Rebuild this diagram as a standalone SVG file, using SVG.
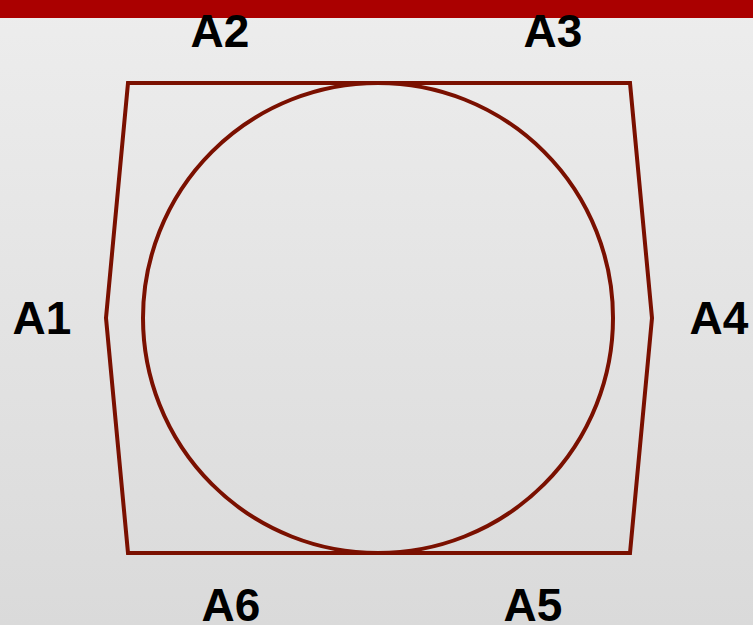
<svg xmlns="http://www.w3.org/2000/svg" width="753" height="625" viewBox="0 0 753 625">
<style>
.shape{fill:none;stroke:#7a1000;stroke-width:4;stroke-linejoin:miter}
.lbl{font-family:"Liberation Sans",Arial,sans-serif;font-weight:bold;font-size:46px;fill:#000;text-anchor:middle}
</style>
<defs>
<linearGradient id="bg" x1="0" y1="0" x2="0" y2="1">
<stop offset="0" stop-color="#ededed"/>
<stop offset="1" stop-color="#dadada"/>
</linearGradient>
</defs>
<rect x="0" y="0" width="753" height="625" fill="url(#bg)"/>
<rect x="0" y="0" width="753" height="18" fill="#aa0000"/>
<g id="hexagon"><polygon class="shape" points="128,83 630,83 652,318 630,553 128,553 106,318"/></g>
<g id="circle"><circle class="shape" cx="378" cy="318" r="235"/></g>
<g id="labels">
<text class="lbl" x="220" y="47">A2</text>
<text class="lbl" x="553" y="47">A3</text>
<text class="lbl" x="42" y="334">A1</text>
<text class="lbl" x="719" y="334">A4</text>
<text class="lbl" x="231" y="621">A6</text>
<text class="lbl" x="533" y="621">A5</text>
</g>
<g id="connectors"/>
</svg>
